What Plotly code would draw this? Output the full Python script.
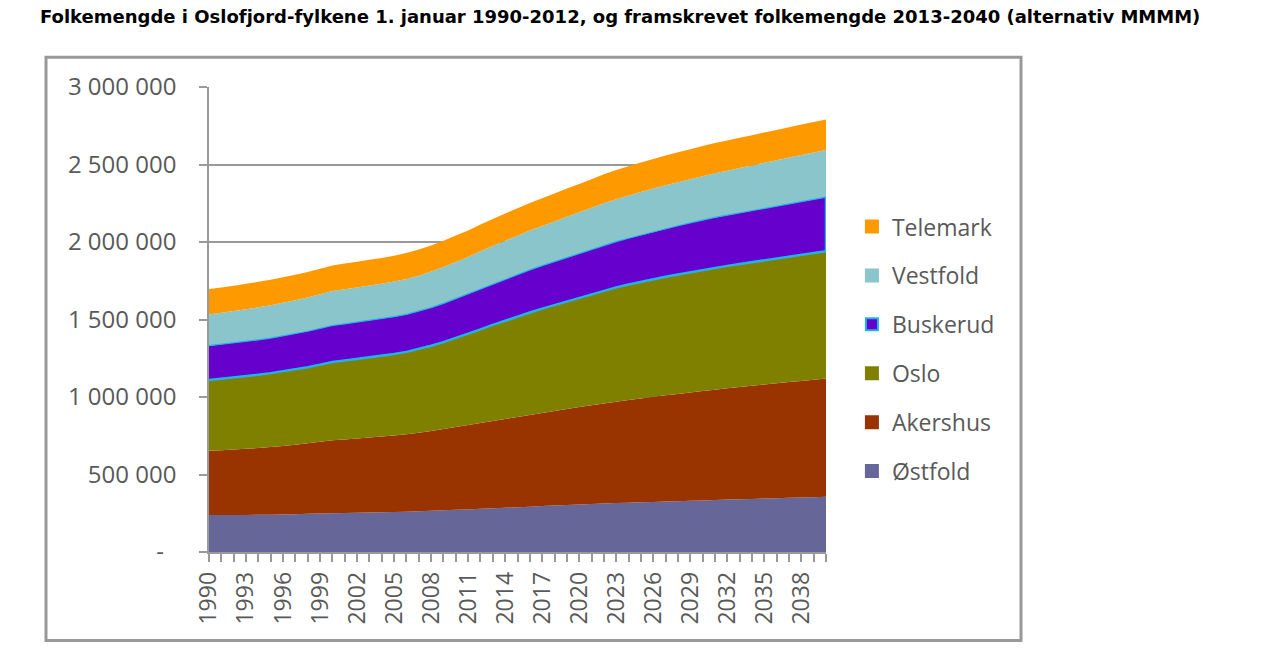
import plotly.graph_objects as go

years = list(range(1990, 2041))

ostfold = [238000, 238500, 239000, 239500, 240000, 241000, 242500, 244000, 246000, 248000,
           250500, 252000, 253500, 255000, 256500, 258000, 260000, 263000, 266000, 269000,
           272000, 275000, 278500, 282000, 285500, 289000, 292500, 296000, 299500, 303000,
           306500, 309500, 312500, 315500, 318000, 320500, 323000, 325500, 328000, 330500,
           333000, 335500, 338000, 340000, 342500, 344500, 347000, 349500, 351500, 354000,
           356000]
akershus = [415000, 418000, 422000, 426000, 431000, 436000, 442000, 448000, 455000, 463000,
            470000, 474000, 478000, 483000, 488000, 494000, 500000, 507000, 515000, 524000,
            534000, 544000, 553000, 563000, 573000, 582000, 592000, 601000, 610000, 620000,
            629000, 637000, 646000, 654000, 662000, 670000, 678000, 685000, 692000, 699000,
            706000, 712000, 718000, 724000, 730000, 736000, 741000, 747000, 752000, 758000,
            763000]
oslo = [457000, 461000, 465000, 469000, 473000, 477000, 481000, 486000, 491000, 498000,
        505000, 509000, 513000, 517000, 520000, 525000, 531000, 539000, 550000, 561000,
        574000, 588000, 605000, 620000, 634000, 648000, 661000, 673000, 684000, 694000,
        704000, 716000, 728000, 738000, 746000, 753000, 759000, 765000, 771000, 776000,
        781000, 786000, 790000, 794000, 798000, 802000, 806000, 810000, 814000, 818000,
        822000]
buskerud = [221000, 222000, 223000, 224000, 225000, 226000, 228000, 230000, 232000, 234000,
            236000, 237000, 238000, 239000, 240000, 241000, 242000, 244000, 246000, 250000,
            255000, 259000, 264000, 267000, 270000, 272000, 275000, 278000, 280000, 283000,
            286000, 289000, 292000, 295000, 298000, 302000, 306000, 310000, 314000, 318000,
            322000, 325000, 327000, 330000, 332000, 335000, 337000, 340000, 343000, 345000,
            348000]
vestfold = [202000, 204000, 206000, 208000, 210000, 212000, 214000, 216000, 218000, 220000,
            222000, 223000, 224000, 225000, 226000, 227000, 228000, 230000, 232000, 234000,
            236000, 238000, 240000, 243000, 246000, 250000, 253000, 256000, 259000, 263000,
            266000, 269000, 272000, 274000, 276000, 277000, 279000, 280000, 281000, 282000,
            283000, 285000, 287000, 289000, 291000, 294000, 296000, 298000, 301000, 303000,
            305000]
telemark = [163000, 163000, 163000, 163500, 164000, 164000, 164500, 165000, 165000, 165000,
            165000, 165500, 166000, 166500, 167000, 167000, 167500, 168000, 168500, 169500,
            170500, 171000, 172000, 173500, 175000, 176500, 178000, 179000, 180500, 181500,
            183000, 184500, 186000, 187500, 189000, 190000, 191000, 192000, 193000, 193500,
            194000, 194500, 195000, 195000, 195500, 195500, 196000, 196000, 196000, 196500,
            196500]

names = ["Østfold", "Akershus", "Oslo", "Buskerud", "Vestfold", "Telemark"]
values = [ostfold, akershus, oslo, buskerud, vestfold, telemark]
colors = ["#666699", "#993300", "#808000", "#6600CC", "#8AC5CC", "#FF9900"]
cyan = "#1EB4E8"

y_tickvals = [0, 500000, 1000000, 1500000, 2000000, 2500000, 3000000]
y_ticktext = ["-\u00a0\u00a0", "500 000", "1 000 000", "1 500 000", "2 000 000", "2 500 000", "3 000 000"]
x_ticktext = [str(y) if (y - 1990) % 3 == 0 and y < 2040 else "" for y in years]

fig = go.Figure()

for name, vals, color in zip(names, values, colors):
    if name == "Oslo":
        kw = dict(mode="lines", line=dict(color=cyan, width=2.5))
    elif name == "Buskerud":
        kw = dict(mode="lines", line=dict(color=cyan, width=1.2))
    else:
        kw = dict(mode="none")
    fig.add_trace(go.Scatter(x=years, y=vals, name=name, stackgroup="one",
                             fillcolor=color, showlegend=False, hoverinfo="skip", **kw))

# right edge outline of Buskerud band
cum_oslo_end = ostfold[-1] + akershus[-1] + oslo[-1]
cum_busk_end = cum_oslo_end + buskerud[-1]
fig.add_trace(go.Scatter(x=[years[-1], years[-1]], y=[cum_oslo_end, cum_busk_end],
                         mode="lines", line=dict(color=cyan, width=2.5),
                         showlegend=False, hoverinfo="skip"))

# legend entries (square swatches)
for name, color in reversed(list(zip(names, colors))):
    fig.add_trace(go.Bar(x=[None], y=[None], name=name, legendgroup=name,
                         marker=dict(color=color,
                                     line=dict(color=cyan if name == "Buskerud" else color, width=2))))

fig.update_layout(
    width=1262, height=672,
    paper_bgcolor="white", plot_bgcolor="white",
    margin=dict(l=209, r=436, t=87, b=120),
    font=dict(family="Open Sans, sans-serif", color="#595959"),
    title=dict(text="<b>Folkemengde i Oslofjord-fylkene 1. januar 1990-2012, og framskrevet folkemengde 2013-2040 (alternativ MMMM)</b>",
               x=40 / 1262, xanchor="left", y=1 - 17 / 672, yanchor="middle",
               font=dict(family="DejaVu Sans, sans-serif", size=18, color="black")),
    showlegend=True,
    legend=dict(x=1.042, xanchor="left", y=0.746, yanchor="top",
                font=dict(size=23, color="#595959"),
                tracegroupgap=16, bgcolor="rgba(0,0,0,0)", traceorder="grouped"),
    xaxis=dict(range=[1990, 2040], tickmode="array", tickvals=years, ticktext=x_ticktext,
               tickangle=-90, ticks="outside", ticklen=8, tickwidth=1.5, tickcolor="#999999",
               showline=True, linecolor="#999999", linewidth=1.5, showgrid=False, zeroline=False,
               tickfont=dict(size=23, color="#595959"), ticklabelstandoff=1),
    yaxis=dict(range=[0, 3000000], tickmode="array", tickvals=y_tickvals, ticktext=y_ticktext,
               ticks="outside", ticklen=8, tickwidth=1.5, tickcolor="#999999",
               showline=True, linecolor="#999999", linewidth=1.5,
               showgrid=True, gridcolor="#999999", gridwidth=1.5, zeroline=False,
               tickfont=dict(size=24, color="#595959"), ticklabelstandoff=18),
    shapes=[dict(type="rect", xref="paper", yref="paper",
                 x0=(46 - 209) / 617, x1=(1021 - 209) / 617,
                 y0=(552.3 - 641) / 465.6, y1=(552.3 - 57) / 465.6,
                 line=dict(color="#999999", width=3), fillcolor="rgba(0,0,0,0)", layer="below")],
)

fig.write_html("out.html", config={"displayModeBar": False},
               post_script="document.body.style.margin='0';document.body.style.overflow='hidden';")
